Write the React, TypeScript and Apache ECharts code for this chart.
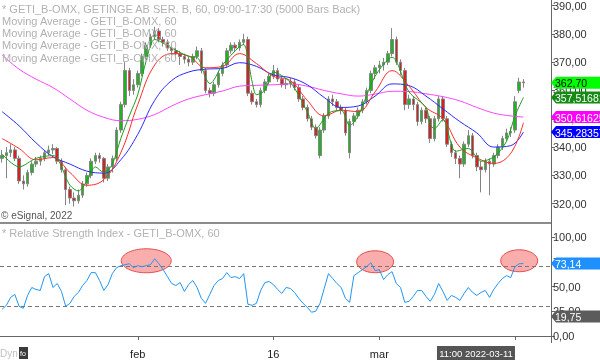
import React, { useEffect, useRef } from 'react';
import * as echarts from 'echarts';

// [open, close, low, high] per hourly bar
const candles: number[][] = [
  [336, 337, 334.5, 339], [337, 338, 329, 340], [338, 339, 336.5, 341], [339, 336, 335, 340],
  [336, 328, 327, 337], [328, 327, 325, 330], [327, 331, 326, 332], [331, 334, 330, 335],
  [334, 335, 333, 336.5], [335, 336, 333.5, 337], [336, 338, 335, 339], [338, 339, 337, 340.5],
  [339, 339.5, 337.5, 341], [339.5, 335, 334, 340], [335, 332, 331, 336], [332, 325, 319.5, 333],
  [325, 322, 320, 326], [322, 321, 319, 324], [321, 323, 320, 325], [323, 327, 322, 328],
  [327, 330, 326, 331], [330, 335, 329, 336], [335, 337, 334, 338], [337, 336, 334.5, 338],
  [336, 329, 327.5, 336.5], [329, 333, 328, 334], [333, 336, 331, 337], [336, 346, 335, 347],
  [346, 355, 345, 356], [355, 367, 354, 370], [367, 360, 358, 368], [360, 362, 358.5, 364],
  [362, 366, 361, 367], [366, 372, 365, 373], [372, 376, 371, 377], [376, 379, 375, 380],
  [379, 381, 378, 382.5], [381, 378, 377, 382], [378, 377, 375.5, 379], [377, 375, 374, 378],
  [375, 374, 372.5, 376], [374, 373, 371.5, 375], [373, 372, 369, 374], [372, 371, 369.5, 373],
  [371, 370, 368.5, 372], [370, 372, 369, 373], [372, 374, 371, 375.5], [374, 367, 366, 375],
  [367, 360, 359, 368], [360, 359, 357.5, 361], [359, 362, 358, 363], [362, 366, 361, 367],
  [366, 369, 365, 370], [369, 374, 368, 375], [374, 376, 373, 377], [376, 375, 373.5, 377],
  [375, 377, 374, 378], [377, 378, 376, 380], [378, 359, 358, 379], [359, 356, 355, 360],
  [356, 355, 354, 357], [355, 360, 354, 361], [360, 363, 359, 364], [363, 365, 362, 366],
  [365, 367, 364, 369], [367, 364, 363, 368], [364, 362, 361, 365], [362, 362.5, 360.5, 364],
  [362.5, 363, 361, 364.5], [363, 361, 360, 364], [361, 357, 356, 362], [357, 354, 353, 358],
  [354, 350, 349, 355], [350, 347, 346, 351], [347, 344, 343, 348], [337, 346, 336, 347],
  [346, 351, 345, 352], [351, 357, 350, 358], [357, 356, 354.5, 358.5], [356, 354, 353, 357],
  [354, 353, 351.5, 355], [353, 345, 344, 354], [338, 349, 336, 350], [349, 351, 347.5, 352],
  [351, 353, 350, 354], [353, 356, 352, 357], [356, 360, 355, 361], [360, 366, 359, 367],
  [366, 368, 364, 369], [368, 369, 366, 370.5], [369, 370, 367, 371.5], [370, 373, 369, 374],
  [373, 378, 372, 382], [378, 370, 369, 379], [370, 367, 365.5, 371], [367, 355, 353, 368],
  [355, 357, 353.5, 358.5], [357, 355, 353, 358], [355, 349, 347.5, 356], [349, 353, 348, 354],
  [353, 350, 348.5, 354], [350, 343, 341.5, 351], [343, 350, 342, 351], [350, 357, 349, 358],
  [357, 350, 349, 358], [350, 341, 340, 351], [341, 338, 336.5, 342], [338, 336, 334, 339],
  [336, 334, 329, 337], [334, 341, 333, 342], [341, 344, 340, 346], [344, 337, 336, 345],
  [337, 333, 331.5, 338], [333, 332, 324, 335], [332, 335, 331, 336], [335, 334, 323, 336],
  [334, 337, 333, 338], [337, 340, 336, 341], [340, 343, 339, 344], [343, 345, 342, 346.5],
  [345, 345.5, 343.5, 347], [346, 356, 345, 358], [360, 363, 359, 364.5], [363, 362.7, 361, 364],
];

// moving averages, [bar index, value]
const maGreen: number[][] = [
  [0, 337.5], [4, 333], [8, 336], [12, 337], [16, 326.5], [18, 324.5], [20, 328], [22, 333],
  [24, 331], [26, 334], [28, 343], [30, 351], [32, 358.5], [34, 370.5], [36, 378], [40, 375],
  [44, 372], [46, 371.7], [48, 364.5], [49, 362.4], [52, 369], [56, 375.5], [57, 376.2], [59, 363],
  [60, 358.5], [62, 360], [64, 366.5], [68, 362.8], [72, 352.5], [74, 346.5], [77, 352], [80, 353],
  [82, 347.6], [84, 351], [88, 365], [92, 371.7], [96, 359.5], [100, 354], [101, 348], [102, 346.5],
  [104, 349.7], [107, 338.5], [110, 339.5], [113, 335], [116, 336.5], [119, 342], [121, 351], [123, 357.5],
];
const maRed: number[][] = [
  [0, 343], [4, 339.5], [8, 335.5], [12, 336.3], [16, 331], [20, 326.5], [24, 328.5], [28, 338],
  [32, 355], [36, 369], [40, 373], [44, 372.2], [48, 368], [52, 368.5], [56, 373], [60, 369.5],
  [64, 365], [68, 363.5], [72, 356.5], [76, 351], [80, 353], [84, 352.5], [88, 359.5], [92, 367],
  [96, 361.5], [100, 354], [104, 350], [108, 340], [112, 336.2], [116, 334.2], [120, 337.8], [123, 348.6],
];
const maBlue: number[][] = [
  [0, 352.5], [4, 347.5], [8, 341.5], [12, 336.6], [16, 334], [20, 331.5], [24, 330.8], [28, 335.5],
  [32, 344.5], [36, 356.5], [40, 363.5], [44, 366.5], [48, 367.5], [52, 367.8], [56, 369.8], [60, 368.5],
  [64, 365.5], [68, 364.5], [72, 362], [76, 357.5], [80, 354], [84, 354.5], [88, 358], [92, 362.3],
  [96, 361.7], [100, 358], [104, 353.5], [108, 349], [112, 345], [116, 340], [120, 340.5], [123, 345.3],
];
const maMagenta: number[][] = [
  [0, 372.5], [4, 367.5], [8, 364], [12, 361], [16, 357], [20, 353], [24, 350.5], [28, 349.3],
  [32, 349.8], [36, 351.5], [40, 354.5], [44, 357], [48, 358.5], [52, 359.8], [56, 361.5], [60, 361.8],
  [64, 362], [68, 362.3], [72, 361.5], [76, 360], [80, 358.8], [84, 358], [88, 358.7], [92, 359.7],
  [96, 359.6], [100, 358.8], [104, 357.8], [108, 356.3], [112, 354], [116, 352], [120, 351], [123, 350.6],
];

const rsi: number[] = [
  27, 31, 39, 42, 30, 28, 41, 49, 47, 46, 60, 63, 49, 53, 45, 30,
  33, 40, 44, 51, 56, 64, 64, 56, 46, 52, 63, 69, 71, 72, 73, 69,
  71, 70, 71, 72, 78, 73, 67, 60, 53, 51, 54, 45, 52, 56, 49, 38,
  33, 42, 51, 56, 58, 64, 59, 60, 58, 63, 32, 31, 33, 46, 54, 55,
  52, 47, 43, 49, 48, 44, 38, 33, 29, 24, 25, 33, 48, 63, 58, 53,
  49, 38, 34, 61, 64, 67, 70, 74, 66, 67, 57, 62, 65, 53, 49, 34,
  35, 40, 46, 46, 40, 35, 42, 53, 45, 36, 41, 39, 36, 43, 49, 44,
  41, 44, 46, 39, 47, 53, 58, 61, 59, 70, 73, 73.14,
];

const rsiLevels = [70, 30];
const priceTicks = [320, 330, 340, 350, 360, 370, 380, 390];

const SLOTS = 130;
const categories = Array.from({ length: SLOTS }, (_, i) => `bar${i}`);
const xTickIndex = [32, 64, 89, 121];
const xTickText = ['feb', '16', 'mar', ''];
const cursorIndex = 121;
const cursorText = '11:00 2022-03-11';

const tags = [
  { axis: 0, value: 362.7, text: '362,70', bg: '#00ff00', fg: '#000000' },
  { axis: 0, value: 357.51681, text: '357,51681', bg: '#148c14', fg: '#ffffff' },
  { axis: 0, value: 350.61625, text: '350,61625', bg: '#ff00ff', fg: '#ffffff' },
  { axis: 0, value: 345.28357, text: '345,28357', bg: '#0000ff', fg: '#ffffff' },
  { axis: 1, value: 73.14, text: '73,14', bg: '#1e90ff', fg: '#ffffff' },
  { axis: 1, value: 19.75, text: '19,75', bg: '#5c5c5c', fg: '#ffffff' },
];

// RSI zones circled: [bar index, rsi value]
const rsiHighlights: number[][] = [[34, 76], [88, 75], [122, 76]];
const highlightRadii: number[][] = [[25, 12], [18.5, 11], [18.5, 11]];

const FONT = 'Liberation Sans, Arial, sans-serif';
const fmt = (v: number) => v.toFixed(2).replace('.', ',');

export default function App() {
  const ref = useRef<HTMLDivElement>(null);
  useEffect(() => {
    const chart = echarts.init(ref.current!, null, { renderer: 'svg' });
    const AXIS_X = 551;
    const tickFn = (i: number) => xTickIndex.includes(i);
    chart.setOption({
      animation: false,
      textStyle: { fontFamily: FONT },
      grid: [
        { left: 0, right: 600 - AXIS_X, top: 0, height: 232 },
        { left: 0, right: 600 - AXIS_X, top: 237, bottom: 24 },
      ],
      xAxis: [
        { type: 'category', gridIndex: 0, data: categories, boundaryGap: true, show: false },
        {
          type: 'category', gridIndex: 1, data: categories, boundaryGap: true, offset: 7,
          axisLine: { show: true, lineStyle: { color: '#666', width: 1 } },
          axisTick: { show: true, alignWithLabel: true, interval: (i: number) => tickFn(i), length: 4, lineStyle: { color: '#666' } },
          axisLabel: {
            interval: (i: number) => tickFn(i), margin: 5, color: '#222', fontSize: 11,
            formatter: (_v: string, i: number) => { const k = xTickIndex.indexOf(i); return k >= 0 ? xTickText[k] : ''; },
          },
          splitLine: { show: false },
        },
      ],
      yAxis: [
        {
          type: 'value', gridIndex: 0, position: 'right', min: 310, max: 390, interval: 10,
          axisLine: { show: false },
          axisTick: { show: true, length: 4, lineStyle: { color: '#666' }, customValues: priceTicks },
          axisLabel: { color: '#333', fontSize: 11, margin: 2, customValues: priceTicks, formatter: (v: number) => (v === 310 ? '' : fmt(v)) },
          splitLine: { show: false },
        },
        {
          type: 'value', gridIndex: 1, position: 'right', min: 0, max: 100, interval: 25,
          axisLine: { show: false },
          axisTick: { show: true, length: 4, lineStyle: { color: '#666' } },
          axisLabel: { color: '#333', fontSize: 11, margin: 2, formatter: (v: number) => fmt(v) },
          splitLine: { show: false },
        },
      ],
      series: [
        {
          type: 'candlestick', xAxisIndex: 0, yAxisIndex: 0, data: candles, barWidth: 3,
          itemStyle: { color: '#1fb51f', color0: '#d92020', borderColor: '#858585', borderColor0: '#858585', borderWidth: 1 },
        },
        { type: 'line', xAxisIndex: 0, yAxisIndex: 0, data: maMagenta, showSymbol: false, smooth: 0.4, lineStyle: { color: '#ff44ff', width: 1 } },
        { type: 'line', xAxisIndex: 0, yAxisIndex: 0, data: maBlue, showSymbol: false, smooth: 0.4, lineStyle: { color: '#2a2aff', width: 1 } },
        { type: 'line', xAxisIndex: 0, yAxisIndex: 0, data: maRed, showSymbol: false, smooth: 0.4, lineStyle: { color: '#ff2a2a', width: 1 } },
        { type: 'line', xAxisIndex: 0, yAxisIndex: 0, data: maGreen, showSymbol: false, smooth: 0.3, lineStyle: { color: '#1aa01a', width: 1 } },
        {
          type: 'line', xAxisIndex: 1, yAxisIndex: 1, data: rsi, showSymbol: false, z: 5,
          lineStyle: { color: '#2196f3', width: 1 },
          markLine: {
            silent: true, symbol: 'none', label: { show: false },
            lineStyle: { color: '#777777', type: [4, 3], width: 1 },
            data: rsiLevels.map((v) => ({ yAxis: v })),
          },
        },
      ],
    });

    const els: any[] = [];
    const txt = (t: string, x: number, y: number, fill: string, size = 11) => ({
      type: 'text', x, y, z: 60,
      style: { text: t, fill, font: `${size}px ${FONT}`, verticalAlign: 'middle', align: 'left' },
    });
    // frame lines
    els.push({ type: 'line', z: 40, shape: { x1: AXIS_X + 0.5, y1: 0, x2: AXIS_X + 0.5, y2: 343 }, style: { stroke: '#666', lineWidth: 1 } });
    els.push({ type: 'line', z: 40, shape: { x1: 0, y1: 223, x2: AXIS_X, y2: 223 }, style: { stroke: '#666', lineWidth: 1.5 } });
    // legends
    els.push(txt('* GETI_B-OMX, GETINGE AB SER. B, 60, 09:00-17:30 (5000 Bars Back)', 2, 8.5, '#b2b2b2'));
    for (let k = 0; k < 4; k++) els.push(txt('Moving Average - GETI_B-OMX, 60', 2, 21 + 12.2 * k, '#b2b2b2'));
    els.push(txt('© eSignal, 2022', 1, 215.5, '#555', 10));
    els.push(txt('* Relative Strength Index - GETI_B-OMX, 60', 2, 233, '#b2b2b2'));
    els.push(txt('Dyn', 0, 353, '#c0c0c0', 10));
    els.push({ type: 'rect', z: 60, shape: { x: 19, y: 347, width: 9, height: 12 }, style: { fill: '#3a3a3a' } });
    els.push(txt('fo', 20, 353, '#ffffff', 7));
    // highlight ellipses
    rsiHighlights.forEach((p, k) => {
      const c = chart.convertToPixel({ gridIndex: 1 }, p) as number[];
      els.push({
        type: 'ellipse', z: 1,
        shape: { cx: c[0], cy: c[1], rx: highlightRadii[k][0], ry: highlightRadii[k][1] },
        style: { fill: 'rgba(244,105,105,0.55)', stroke: '#e64b4b', lineWidth: 1 },
      });
    });
    // cursor date box
    const cx = chart.convertToPixel({ xAxisIndex: 1 }, cursorIndex) as number;
    const boxW = 78;
    els.push({ type: 'rect', z: 60, shape: { x: cx - boxW, y: 346, width: boxW, height: 14 }, style: { fill: '#555555' } });
    els.push({
      type: 'text', x: cx - boxW / 2, y: 353, z: 61,
      style: { text: cursorText, fill: '#ffffff', font: `9.5px ${FONT}`, verticalAlign: 'middle', align: 'center' },
    });
    // value tags on the right axis
    tags.forEach((t) => {
      const y = chart.convertToPixel({ yAxisIndex: t.axis }, t.value) as number;
      const h = 6;
      els.push({
        type: 'polygon', z: 70,
        shape: { points: [[AXIS_X, y], [AXIS_X + 5, y - h], [600, y - h], [600, y + h], [AXIS_X + 5, y + h]] },
        style: { fill: t.bg },
      });
      els.push({
        type: 'text', x: AXIS_X + 4, y: y + 0.5, z: 71,
        style: { text: t.text, fill: t.fg, font: `10.5px ${FONT}`, verticalAlign: 'middle', align: 'left' },
      });
    });
    chart.setOption({ graphic: els });
    return () => chart.dispose();
  }, []);
  return <div ref={ref} style={{ position: 'fixed', left: 0, top: 0, width: 600, height: 360 }} />;
}
